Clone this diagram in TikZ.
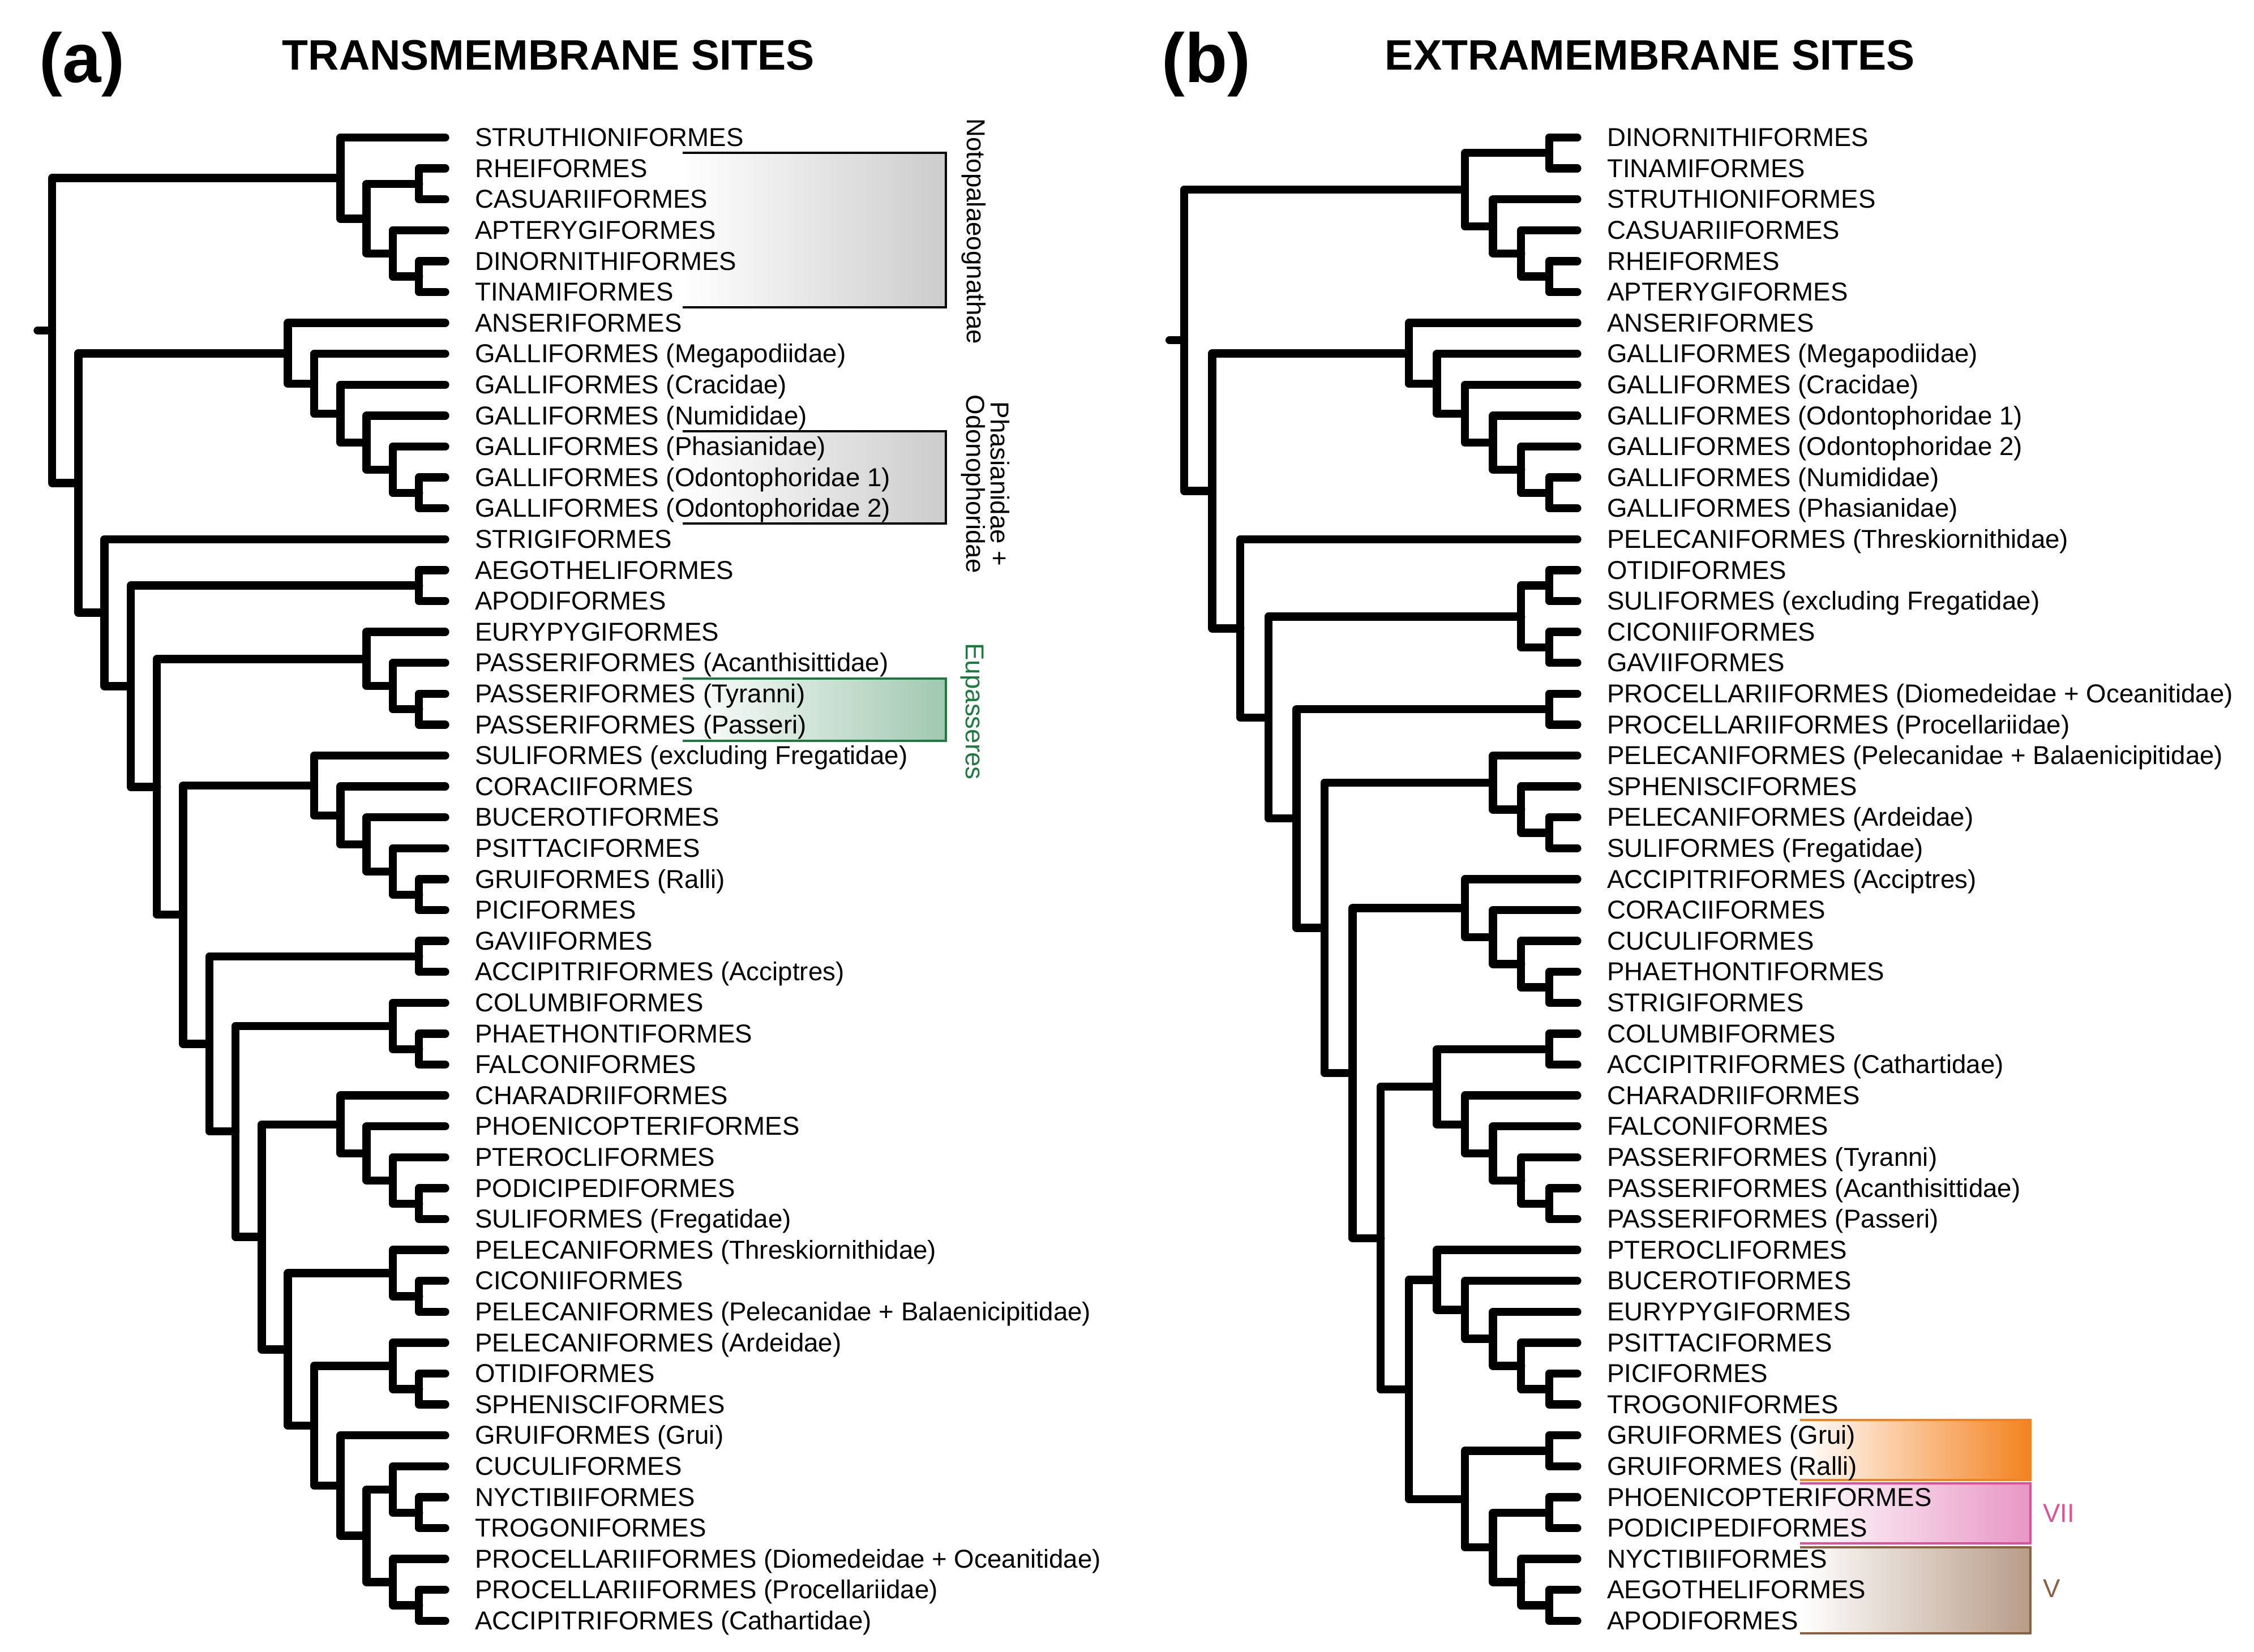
\documentclass[tikz,border=0pt]{standalone}
\usepackage{fontspec}
\setmainfont{Liberation Sans}
\usetikzlibrary{positioning}
\definecolor{eupgreen}{RGB}{28,122,62}
\definecolor{eupfill}{RGB}{160,200,176}
\definecolor{gruorange}{RGB}{244,130,32}
\definecolor{sevpink}{RGB}{224,80,154}
\definecolor{sevfill}{RGB}{232,150,196}
\definecolor{fivebrown}{RGB}{140,95,62}
\definecolor{fivefill}{RGB}{184,156,136}
\newcommand{\bifurc}[3]{\draw[branch] (#1) |- (#2) (#1) |- (#3);}

\begin{document}
\begin{tikzpicture}[
branch/.style={line width=4.1pt, line cap=round, line join=round},
taxon/.style={anchor=base west, inner sep=0pt, xshift=5.2mm, yshift=-4.45pt, font=\fontsize{13}{15}\selectfont},
title/.style={font=\fontsize{21.4}{26}\selectfont\bfseries},
panel/.style={font=\fontsize{35}{40}\selectfont\bfseries},
clade/.style={font=\fontsize{13}{12.3}\selectfont, rotate=-90, align=center},
boxline/.style={line width=1pt}]
\useasboundingbox (0,0) rectangle (39.82,-29.19);

% headings
\node[panel] (pa) at (1.45,-1.14) {(a)};
\node[panel] (pb) at (21.31,-1.14) {(b)};
\node[title] (ta) at (9.69,-0.98) {TRANSMEMBRANE SITES};
\node[title] (tb) at (29.15,-0.98) {EXTRAMEMBRANE SITES};

% shaded boxes
\shade[left color=white, right color=gray!40] (12.06,-2.70) rectangle (16.71,-5.43);
\draw[boxline] (12.06,-2.70) -| (16.71,-5.43) -- (12.06,-5.43);
\shade[left color=white, right color=gray!40] (12.06,-7.62) rectangle (16.71,-9.25);
\draw[boxline] (12.06,-7.62) -| (16.71,-9.25) -- (12.06,-9.25);
\shade[left color=white, right color=eupfill] (12.06,-11.99) rectangle (16.71,-13.09);
\draw[boxline, eupgreen] (12.06,-11.99) -| (16.71,-13.09) -- (12.06,-13.09);
\shade[left color=white, right color=gruorange] (31.80,-25.09) rectangle (35.87,-26.15);
\draw[boxline, gruorange] (31.80,-25.09) -| (35.87,-26.15) -- (31.80,-26.15);
\shade[left color=white, right color=sevfill] (31.80,-26.21) rectangle (35.87,-27.27);
\draw[boxline, sevpink] (31.80,-26.21) -| (35.87,-27.27) -- (31.80,-27.27);
\shade[left color=white, right color=fivefill] (31.80,-27.34) rectangle (35.87,-28.86);
\draw[boxline, fivebrown] (31.80,-27.34) -| (35.87,-28.86) -- (31.80,-28.86);

\node[clade] (noto) at (17.20,-4.09) {Notopalaeognathae};
\node[clade] (phas) at (17.41,-8.55) {Phasianidae +\\Odonophoridae};
\node[clade, text=eupgreen] (eupa) at (17.17,-12.57) {Eupasseres};
\node[font=\fontsize{13}{15}\selectfont, text=sevpink] (sev) at (36.37,-26.74) {VII};
\node[font=\fontsize{13}{15}\selectfont, text=fivebrown] (five) at (36.25,-28.07) {V};

% (a) transmembrane tree
\begin{scope}[shift={(0.92,-2.43)}, x=0.463cm, y=-0.546cm]
\foreach \t [count=\i from 0] in {%
STRUTHIONIFORMES,%
RHEIFORMES,%
CASUARIIFORMES,%
APTERYGIFORMES,%
DINORNITHIFORMES,%
TINAMIFORMES,%
ANSERIFORMES,%
GALLIFORMES (Megapodiidae),%
GALLIFORMES (Cracidae),%
GALLIFORMES (Numididae),%
GALLIFORMES (Phasianidae),%
GALLIFORMES (Odontophoridae 1),%
GALLIFORMES (Odontophoridae 2),%
STRIGIFORMES,%
AEGOTHELIFORMES,%
APODIFORMES,%
EURYPYGIFORMES,%
PASSERIFORMES (Acanthisittidae),%
PASSERIFORMES (Tyranni),%
PASSERIFORMES (Passeri),%
SULIFORMES (excluding Fregatidae),%
CORACIIFORMES,%
BUCEROTIFORMES,%
PSITTACIFORMES,%
GRUIFORMES (Ralli),%
PICIFORMES,%
GAVIIFORMES,%
ACCIPITRIFORMES (Acciptres),%
COLUMBIFORMES,%
PHAETHONTIFORMES,%
FALCONIFORMES,%
CHARADRIIFORMES,%
PHOENICOPTERIFORMES,%
PTEROCLIFORMES,%
PODICIPEDIFORMES,%
SULIFORMES (Fregatidae),%
PELECANIFORMES (Threskiornithidae),%
CICONIIFORMES,%
PELECANIFORMES (Pelecanidae + Balaenicipitidae),%
PELECANIFORMES (Ardeidae),%
OTIDIFORMES,%
SPHENISCIFORMES,%
GRUIFORMES (Grui),%
CUCULIFORMES,%
NYCTIBIIFORMES,%
TROGONIFORMES,%
PROCELLARIIFORMES (Diomedeidae + Oceanitidae),%
PROCELLARIIFORMES (Procellariidae),%
ACCIPITRIFORMES (Cathartidae)%
}{
\coordinate (at\i) at (15,\i);
\node[taxon] (a\i) at (at\i) {\t};
}
\coordinate (aroot) at (0,6.2469);
\coordinate (astub) at (-0.55,6.2469);
\coordinate (apal) at (11,1.3125);
\coordinate (apal2) at (12,2.625);
\coordinate (apal3) at (14,1.5);
\coordinate (apal4) at (13,3.75);
\coordinate (apal5) at (14,4.5);
\coordinate (aneo) at (1,11.1813);
\coordinate (agal1) at (9,6.9844);
\coordinate (agal2) at (10,7.9688);
\coordinate (agal3) at (11,8.9375);
\coordinate (agal4) at (12,9.875);
\coordinate (agal5) at (13,10.75);
\coordinate (agal6) at (14,11.5);
\coordinate (an2) at (2,15.3782);
\coordinate (an3) at (3,17.7563);
\coordinate (aapo) at (14,14.5);
\coordinate (an4) at (4,21.0127);
\coordinate (apas1) at (12,16.875);
\coordinate (apas2) at (13,17.75);
\coordinate (apas3) at (14,18.5);
\coordinate (an5) at (5,25.1504);
\coordinate (asul1) at (10,20.9688);
\coordinate (asul2) at (11,21.9375);
\coordinate (asul3) at (12,22.875);
\coordinate (asul4) at (13,23.75);
\coordinate (asul5) at (14,24.5);
\coordinate (an6) at (6,29.3320);
\coordinate (agav) at (14,26.5);
\coordinate (an7) at (7,32.1641);
\coordinate (acol1) at (13,28.75);
\coordinate (acol2) at (14,29.5);
\coordinate (an8) at (8,35.5781);
\coordinate (acha1) at (11,31.9375);
\coordinate (acha2) at (12,32.875);
\coordinate (acha3) at (13,33.75);
\coordinate (acha4) at (14,34.5);
\coordinate (an9) at (9,39.2188);
\coordinate (apel1) at (13,36.75);
\coordinate (apel2) at (14,37.5);
\coordinate (an10) at (10,41.6875);
\coordinate (aoti1) at (13,39.75);
\coordinate (aoti2) at (14,40.5);
\coordinate (an11) at (11,43.625);
\coordinate (an12) at (12,45.25);
\coordinate (acuc1) at (13,43.75);
\coordinate (acuc2) at (14,44.5);
\coordinate (apro1) at (13,46.75);
\coordinate (apro2) at (14,47.5);
\draw[branch] (aroot) -- (astub);
\bifurc{aroot}{apal}{aneo}
\bifurc{apal}{at0}{apal2}
\bifurc{apal2}{apal3}{apal4}
\bifurc{apal3}{at1}{at2}
\bifurc{apal4}{at3}{apal5}
\bifurc{apal5}{at4}{at5}
\bifurc{aneo}{agal1}{an2}
\bifurc{agal1}{at6}{agal2}
\bifurc{agal2}{at7}{agal3}
\bifurc{agal3}{at8}{agal4}
\bifurc{agal4}{at9}{agal5}
\bifurc{agal5}{at10}{agal6}
\bifurc{agal6}{at11}{at12}
\bifurc{an2}{at13}{an3}
\bifurc{an3}{aapo}{an4}
\bifurc{aapo}{at14}{at15}
\bifurc{an4}{apas1}{an5}
\bifurc{apas1}{at16}{apas2}
\bifurc{apas2}{at17}{apas3}
\bifurc{apas3}{at18}{at19}
\bifurc{an5}{asul1}{an6}
\bifurc{asul1}{at20}{asul2}
\bifurc{asul2}{at21}{asul3}
\bifurc{asul3}{at22}{asul4}
\bifurc{asul4}{at23}{asul5}
\bifurc{asul5}{at24}{at25}
\bifurc{an6}{agav}{an7}
\bifurc{agav}{at26}{at27}
\bifurc{an7}{acol1}{an8}
\bifurc{acol1}{at28}{acol2}
\bifurc{acol2}{at29}{at30}
\bifurc{an8}{acha1}{an9}
\bifurc{acha1}{at31}{acha2}
\bifurc{acha2}{at32}{acha3}
\bifurc{acha3}{at33}{acha4}
\bifurc{acha4}{at34}{at35}
\bifurc{an9}{apel1}{an10}
\bifurc{apel1}{at36}{apel2}
\bifurc{apel2}{at37}{at38}
\bifurc{an10}{aoti1}{an11}
\bifurc{aoti1}{at39}{aoti2}
\bifurc{aoti2}{at40}{at41}
\bifurc{an11}{at42}{an12}
\bifurc{an12}{acuc1}{apro1}
\bifurc{acuc1}{at43}{acuc2}
\bifurc{acuc2}{at44}{at45}
\bifurc{apro1}{at46}{apro2}
\bifurc{apro2}{at47}{at48}
\end{scope}

% (b) extramembrane tree
\begin{scope}[shift={(20.92,-2.43)}, x=0.496cm, y=-0.546cm]
\foreach \t [count=\i from 0] in {%
DINORNITHIFORMES,%
TINAMIFORMES,%
STRUTHIONIFORMES,%
CASUARIIFORMES,%
RHEIFORMES,%
APTERYGIFORMES,%
ANSERIFORMES,%
GALLIFORMES (Megapodiidae),%
GALLIFORMES (Cracidae),%
GALLIFORMES (Odontophoridae 1),%
GALLIFORMES (Odontophoridae 2),%
GALLIFORMES (Numididae),%
GALLIFORMES (Phasianidae),%
PELECANIFORMES (Threskiornithidae),%
OTIDIFORMES,%
SULIFORMES (excluding Fregatidae),%
CICONIIFORMES,%
GAVIIFORMES,%
PROCELLARIIFORMES (Diomedeidae + Oceanitidae),%
PROCELLARIIFORMES (Procellariidae),%
PELECANIFORMES (Pelecanidae + Balaenicipitidae),%
SPHENISCIFORMES,%
PELECANIFORMES (Ardeidae),%
SULIFORMES (Fregatidae),%
ACCIPITRIFORMES (Acciptres),%
CORACIIFORMES,%
CUCULIFORMES,%
PHAETHONTIFORMES,%
STRIGIFORMES,%
COLUMBIFORMES,%
ACCIPITRIFORMES (Cathartidae),%
CHARADRIIFORMES,%
FALCONIFORMES,%
PASSERIFORMES (Tyranni),%
PASSERIFORMES (Acanthisittidae),%
PASSERIFORMES (Passeri),%
PTEROCLIFORMES,%
BUCEROTIFORMES,%
EURYPYGIFORMES,%
PSITTACIFORMES,%
PICIFORMES,%
TROGONIFORMES,%
GRUIFORMES (Grui),%
GRUIFORMES (Ralli),%
PHOENICOPTERIFORMES,%
PODICIPEDIFORMES,%
NYCTIBIIFORMES,%
AEGOTHELIFORMES,%
APODIFORMES%
}{
\coordinate (bt\i) at (14,\i);
\node[taxon] (b\i) at (bt\i) {\t};
}
\coordinate (broot) at (0,6.5610);
\coordinate (bstub) at (-0.52,6.5610);
\coordinate (bpal) at (10,1.6875);
\coordinate (bdin) at (13,0.5);
\coordinate (bpal2) at (11,2.875);
\coordinate (bpal3) at (12,3.75);
\coordinate (bpal4) at (13,4.5);
\coordinate (bneo) at (1,11.4344);
\coordinate (bgal1) at (8,6.9844);
\coordinate (bgal2) at (9,7.9688);
\coordinate (bgal3) at (10,8.9375);
\coordinate (bgal4) at (11,9.875);
\coordinate (bgal5) at (12,10.75);
\coordinate (bgal6) at (13,11.5);
\coordinate (bn2) at (2,15.8845);
\coordinate (bn3) at (3,18.7690);
\coordinate (boti1) at (12,15.5);
\coordinate (boti2) at (13,14.5);
\coordinate (boti3) at (13,16.5);
\coordinate (bn4) at (4,22.0381);
\coordinate (bpro) at (13,18.5);
\coordinate (bn5) at (5,25.5762);
\coordinate (bpel1) at (11,20.875);
\coordinate (bpel2) at (12,21.75);
\coordinate (bpel3) at (13,22.5);
\coordinate (bn6) at (6,30.2773);
\coordinate (bacc1) at (10,24.9375);
\coordinate (bacc2) at (11,25.875);
\coordinate (bacc3) at (12,26.75);
\coordinate (bacc4) at (13,27.5);
\coordinate (bn7) at (7,35.6172);
\coordinate (bcol1) at (9,30.7188);
\coordinate (bcol2) at (13,29.5);
\coordinate (bcha1) at (10,31.9375);
\coordinate (bcha2) at (11,32.875);
\coordinate (bcha3) at (12,33.75);
\coordinate (bcha4) at (13,34.5);
\coordinate (bn8) at (8,40.5156);
\coordinate (bpte1) at (9,36.9688);
\coordinate (bpte2) at (10,37.9375);
\coordinate (bpte3) at (11,38.875);
\coordinate (bpte4) at (12,39.75);
\coordinate (bpte5) at (13,40.5);
\coordinate (bgru1) at (10,44.0625);
\coordinate (bgru2) at (13,42.5);
\coordinate (bgru3) at (11,45.625);
\coordinate (bpho) at (13,44.5);
\coordinate (bnyc1) at (12,46.75);
\coordinate (bnyc2) at (13,47.5);
\draw[branch] (broot) -- (bstub);
\bifurc{broot}{bpal}{bneo}
\bifurc{bpal}{bdin}{bpal2}
\bifurc{bdin}{bt0}{bt1}
\bifurc{bpal2}{bt2}{bpal3}
\bifurc{bpal3}{bt3}{bpal4}
\bifurc{bpal4}{bt4}{bt5}
\bifurc{bneo}{bgal1}{bn2}
\bifurc{bgal1}{bt6}{bgal2}
\bifurc{bgal2}{bt7}{bgal3}
\bifurc{bgal3}{bt8}{bgal4}
\bifurc{bgal4}{bt9}{bgal5}
\bifurc{bgal5}{bt10}{bgal6}
\bifurc{bgal6}{bt11}{bt12}
\bifurc{bn2}{bt13}{bn3}
\bifurc{bn3}{boti1}{bn4}
\bifurc{boti1}{boti2}{boti3}
\bifurc{boti2}{bt14}{bt15}
\bifurc{boti3}{bt16}{bt17}
\bifurc{bn4}{bpro}{bn5}
\bifurc{bpro}{bt18}{bt19}
\bifurc{bn5}{bpel1}{bn6}
\bifurc{bpel1}{bt20}{bpel2}
\bifurc{bpel2}{bt21}{bpel3}
\bifurc{bpel3}{bt22}{bt23}
\bifurc{bn6}{bacc1}{bn7}
\bifurc{bacc1}{bt24}{bacc2}
\bifurc{bacc2}{bt25}{bacc3}
\bifurc{bacc3}{bt26}{bacc4}
\bifurc{bacc4}{bt27}{bt28}
\bifurc{bn7}{bcol1}{bn8}
\bifurc{bcol1}{bcol2}{bcha1}
\bifurc{bcol2}{bt29}{bt30}
\bifurc{bcha1}{bt31}{bcha2}
\bifurc{bcha2}{bt32}{bcha3}
\bifurc{bcha3}{bt33}{bcha4}
\bifurc{bcha4}{bt34}{bt35}
\bifurc{bn8}{bpte1}{bgru1}
\bifurc{bpte1}{bt36}{bpte2}
\bifurc{bpte2}{bt37}{bpte3}
\bifurc{bpte3}{bt38}{bpte4}
\bifurc{bpte4}{bt39}{bpte5}
\bifurc{bpte5}{bt40}{bt41}
\bifurc{bgru1}{bgru2}{bgru3}
\bifurc{bgru2}{bt42}{bt43}
\bifurc{bgru3}{bpho}{bnyc1}
\bifurc{bpho}{bt44}{bt45}
\bifurc{bnyc1}{bt46}{bnyc2}
\bifurc{bnyc2}{bt47}{bt48}
\end{scope}
\end{tikzpicture}
\end{document}
